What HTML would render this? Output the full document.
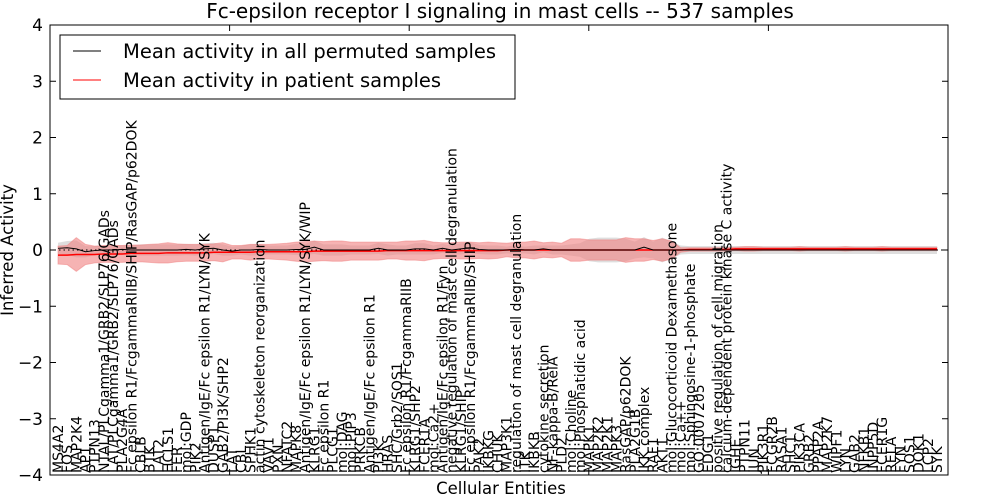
<!DOCTYPE html>
<html><head><meta charset="utf-8"><style>
body{margin:0;background:#fff;}
svg{display:block;font-family:"DejaVu Sans","Liberation Sans",sans-serif;}
</style></head><body>
<svg id="chart" width="1000" height="500" viewBox="0 0 1000 500"></svg>
<script>
const categories=["MS4A2","FOS","MAP2K4","AP1","PTPN13","NTAL/PLCgamma1/GRB2/SLP76/GADs","LAT/PLCgamma1/GRB2/SLP76/GADs","PLA2G4A","Fc epsilon R1/FcgammaRIIB/SHIP/RasGAP/p62DOK","CBLB","BTK","LAT2","HCLS1","FER","mol:GDP","PIK2","Antigen/IgE/Fc epsilon R1/LYN/SYK","DUSP1","GAB2/PI3K/SHP2","LAT","CBL","SPHK1","actin cytoskeleton reorganization","VAV1","PXN","NFATC2","MAPK8","Antigen/IgE/Fc epsilon R1/LYN/SYK/WIP","KLRG1","Fc epsilon R1","PLCG1","mol:DAG","mol:PIP3","PRKCB","Antigen/IgE/Fc epsilon R1","PI3K","HRAS","SHC/Grb2/SOS1","Fc epsilon R1/FcgammaRIIB","KLRG1/SHP2","FCER1A","mol:Ca2+","Antigen/IgE/Fc epsilon R1/Fyn","negative regulation of mast cell degranulation","KLRG1/SHIP","Fc epsilon R1/FcgammaRIIB/SHIP","PAK2","IKBKG","CHUK","MAP3K1","regulation of mast cell degranulation","ITK","IKBKB","cytokine secretion","NF-kappa-B/RelA","PLD2","mol:Choline","mol:Phosphatidic acid","MAPK1","MAP2K2","MAP2K1","MAPK3","RasGAP/p62DOK","PLA2G1B","IKK complex","RAF1","AKT1","mol:Glucocorticoid Dexamethasone","mol:Ca++","mol:Sphingosine-1-phosphate","GO:0007205","EDG1","positive regulation of cell migration","calcium-dependent protein kinase C activity","IGHE","PTPN11","JUN","PIK3R1","FCGR2B","RASA1","SHC1","PIK3CA","GRB2","PPAP2A","MAP2K7","WIPF1","LYN","GAB2","NFKB1","INPP5D","FCER1G","RELA","FYN","SOS1","DOK1","LCP2","SYK"];
const permMean=[0.03,0.04,0.02,-0.03,-0.01,0,0,0.01,0,0,0,0,0,0,0.01,0,0.02,0.03,0,-0.02,0,0,0.01,0,0,0,0.01,0.01,0.05,0,0,0,0,0,0,0.03,0,0,0,0.02,0.02,0,0.03,0,0.02,0.04,0.01,0,0,0,0.01,0,0,0.02,0,0,0,0,0,0,0,0,0,0,0.05,0,0,0,0,0,0,0,0,0,0,0,0,0,0,0,0,0,0,0,0,0,0,0,0,0,0,0,0,0,0,0,0];
const permSd=[0.1,0.12,0.15,0.1,0.08,0.08,0.08,0.08,0.08,0.1,0.1,0.1,0.1,0.1,0.1,0.1,0.1,0.1,0.1,0.08,0.08,0.1,0.1,0.08,0.08,0.08,0.1,0.1,0.12,0.1,0.1,0.1,0.08,0.08,0.08,0.1,0.1,0.08,0.08,0.1,0.1,0.08,0.08,0.08,0.1,0.1,0.08,0.08,0.08,0.06,0.08,0.06,0.08,0.06,0.08,0.08,0.1,0.12,0.2,0.22,0.22,0.22,0.2,0.15,0.18,0.15,0.22,0.15,0.08,0.07,0.07,0.07,0.07,0.07,0.07,0.07,0.07,0.07,0.07,0.07,0.07,0.07,0.07,0.07,0.07,0.07,0.07,0.07,0.07,0.07,0.07,0.07,0.07,0.07,0.07,0.07,0.07];
const patientMean=[-0.09,-0.09,-0.08,-0.08,-0.08,-0.07,-0.07,-0.07,-0.06,-0.06,-0.06,-0.06,-0.05,-0.05,-0.05,-0.05,-0.05,-0.04,-0.04,-0.04,-0.04,-0.04,-0.03,-0.03,-0.03,-0.03,-0.03,-0.03,-0.02,-0.02,-0.02,-0.02,-0.02,-0.02,-0.02,-0.02,-0.01,-0.01,-0.01,-0.01,-0.01,-0.01,-0.01,-0.01,-0.01,-0.01,-0.01,-0.01,-0.01,0,0,0,0,0,0,0,0,0,0,0,0,0,0,0,0,0,0,0,0,0.01,0.01,0.01,0.01,0.01,0.02,0.02,0.02,0.02,0.02,0.02,0.02,0.02,0.02,0.02,0.02,0.02,0.02,0.02,0.02,0.02,0.02,0.02,0.02,0.02,0.02,0.02,0.02];
const patientSd=[0.16,0.17,0.3,0.18,0.15,0.15,0.15,0.15,0.15,0.15,0.16,0.17,0.18,0.16,0.15,0.15,0.15,0.15,0.17,0.12,0.12,0.14,0.13,0.13,0.14,0.15,0.17,0.18,0.18,0.17,0.18,0.18,0.16,0.16,0.16,0.16,0.15,0.15,0.17,0.17,0.18,0.15,0.14,0.14,0.15,0.15,0.14,0.15,0.14,0.12,0.14,0.14,0.16,0.13,0.14,0.12,0.2,0.2,0.18,0.18,0.18,0.18,0.22,0.2,0.2,0.17,0.2,0.16,0.04,0.03,0.03,0.03,0.03,0.03,0.03,0.04,0.04,0.03,0.03,0.03,0.03,0.04,0.03,0.03,0.03,0.03,0.04,0.03,0.03,0.03,0.04,0.03,0.03,0.03,0.03,0.03,0.03];
const yTicks=[4,3,2,1,0,-1,-2,-3,-4];

const NS="http://www.w3.org/2000/svg";
const svg=document.getElementById('chart');
const L=50,R=948,T=25,B=475;
const yMin=-4,yMax=4;
const ys=v=>B-(v-yMin)/(yMax-yMin)*(B-T);
const xs=i=>58+i*(937-58)/(categories.length-1);
function mk(tag,attrs,parent){const e=document.createElementNS(NS,tag);for(const k in attrs)e.setAttribute(k,attrs[k]);(parent||svg).appendChild(e);return e;}
function bandPath(m,s){let p='';for(let i=0;i<m.length;i++)p+=(i?'L':'M')+xs(i)+','+ys(m[i]+s[i]);for(let i=m.length-1;i>=0;i--)p+='L'+xs(i)+','+ys(m[i]-s[i]);return p+'Z';}
function linePath(m){let p='';for(let i=0;i<m.length;i++)p+=(i?'L':'M')+xs(i)+','+ys(m[i]);return p;}

const g1=mk('path',{d:bandPath(permMean,permSd),fill:'#c8c8c8','fill-opacity':'0.6',stroke:'none'});


const g2=mk('path',{d:bandPath(patientMean,patientSd),fill:'#f08080','fill-opacity':'0.6',stroke:'#f08080','stroke-opacity':'0.5'});


const zl=mk('line',{x1:L,x2:R,y1:ys(0),y2:ys(0),stroke:'#000','stroke-width':1,'stroke-dasharray':'1.5,3'});


const pl=mk('path',{d:linePath(patientMean),fill:'none',stroke:'#ff0000','stroke-width':1.5});


const bl=mk('path',{d:linePath(permMean),fill:'none',stroke:'#000','stroke-width':1});



categories.forEach((c,i)=>{
  const t=mk('text',{x:0,y:0,transform:`translate(${xs(i)+5},473) rotate(-90)`,'font-size':'14','fill':'#000'});
  t.textContent=c;
  
  
});
const fr=mk('rect',{x:L,y:T,width:R-L,height:B-T,fill:'none',stroke:'#000','stroke-width':1});


yTicks.forEach(v=>{
  mk('line',{x1:L,x2:L+6,y1:ys(v),y2:ys(v),stroke:'#000'});
  mk('line',{x1:R-6,x2:R,y1:ys(v),y2:ys(v),stroke:'#000'});
  const t=mk('text',{x:L-7,y:ys(v)+6,'text-anchor':'end','font-size':'17'});
  t.textContent=v===0?'0':(v<0?'\u2212'+(-v):String(v));
  
  
});
[20,40,60,80].forEach(k=>{const x=L+k*(R-L)/100;mk('line',{x1:x,x2:x,y1:T,y2:T+6,stroke:'#000'});mk('line',{x1:x,x2:x,y1:B-6,y2:B,stroke:'#000'});});
</script>
<svg style="position:absolute;left:0;top:0" width="1000" height="500">
<text x="500" y="18" text-anchor="middle" font-size="20" font-family="DejaVu Sans, Liberation Sans, sans-serif">Fc-epsilon receptor I signaling in mast cells -- 537 samples</text>
<text x="501" y="494" text-anchor="middle" font-size="16.5" font-family="DejaVu Sans, Liberation Sans, sans-serif">Cellular Entities</text>
<text transform="translate(13,250) rotate(-90)" text-anchor="middle" font-size="16.5" font-family="DejaVu Sans, Liberation Sans, sans-serif">Inferred Activity</text>
<g>
<rect x="60" y="35" width="455" height="64" fill="#fff" stroke="#000"/>
<line x1="73" x2="101" y1="51" y2="51" stroke="#000"/>
<text x="123" y="58" font-size="19.5" font-family="DejaVu Sans, Liberation Sans, sans-serif">Mean activity in all permuted samples</text>
<line x1="73" x2="101" y1="80" y2="80" stroke="#f00"/>
<text x="123" y="87" font-size="19.5" font-family="DejaVu Sans, Liberation Sans, sans-serif">Mean activity in patient samples</text>
</g>
</svg>
</body></html>
